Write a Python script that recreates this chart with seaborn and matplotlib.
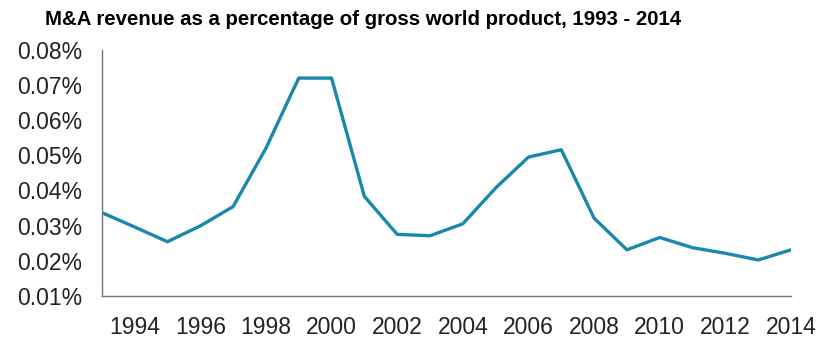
import pandas as pd
import matplotlib.pyplot as plt
import matplotlib.ticker as mticker
import seaborn as sns

# Values (percent of gross world product)
years = list(range(1993, 2015))
ma_share = [0.0337, 0.0296, 0.0254, 0.0299, 0.0354, 0.0520, 0.0720, 0.0720,
            0.0383, 0.0275, 0.0271, 0.0305, 0.0407, 0.0495, 0.0516, 0.0321,
            0.0231, 0.0266, 0.0237, 0.0221, 0.0202, 0.0231]
x_ticks = list(range(1994, 2015, 2))
y_ticks = [0.01, 0.02, 0.03, 0.04, 0.05, 0.06, 0.07, 0.08]

data = pd.DataFrame({'year': years, 'share': ma_share})

sns.set_style('white')
plt.rcParams['font.family'] = ['Liberation Sans', 'DejaVu Sans']

fig = plt.figure(figsize=(8.21, 3.40), dpi=100)
ax = fig.add_axes([0.124, 0.130, 0.8395, 0.723])

sns.lineplot(data=data, x='year', y='share', color='#1a87ad', linewidth=2.4, ax=ax)

ax.set_xlim(1993, 2014)
ax.set_ylim(0.01, 0.08)
ax.set_xticks(x_ticks)
ax.set_yticks(y_ticks)
ax.yaxis.set_major_formatter(mticker.FuncFormatter(lambda v, p: f'{v:.2f}%'))
ax.tick_params(axis='both', length=0, labelsize=16.5, colors='#222222')
ax.tick_params(axis='y', pad=14)
ax.tick_params(axis='x', pad=14.5)
ax.set_xlabel('')
ax.set_ylabel('')

for side in ['top', 'right']:
    ax.spines[side].set_visible(False)
for side in ['left', 'bottom']:
    ax.spines[side].set_color('#777777')
    ax.spines[side].set_linewidth(1.0)

fig.text(0.055, 0.926, 'M&A revenue as a percentage of gross world product, 1993 - 2014',
         fontsize=14.7, fontweight='bold', ha='left', va='baseline', color='black')

plt.savefig('out.png', dpi=100)
